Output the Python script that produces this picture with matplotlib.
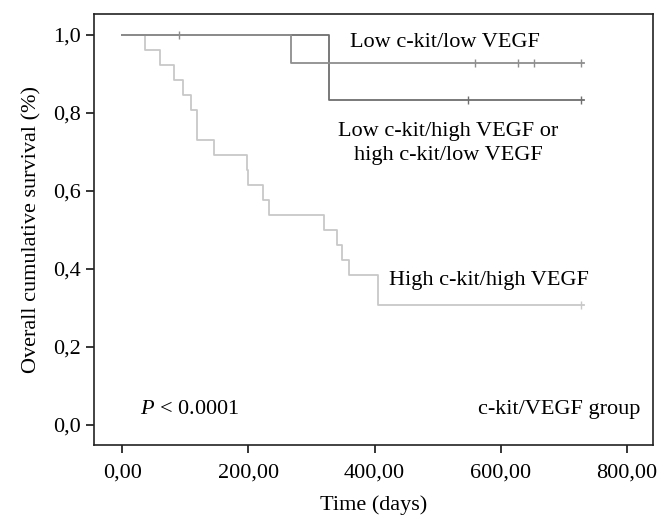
import matplotlib.pyplot as plt

plt.rcParams['font.family'] = ['Liberation Serif', 'DejaVu Serif']
plt.rcParams['mathtext.fontset'] = 'custom'
plt.rcParams['mathtext.it'] = 'Liberation Serif:italic'
plt.rcParams['mathtext.rm'] = 'Liberation Serif'

# step curves: (time in days, survival after the step)
low_low_t = [0, 268, 732]
low_low_s = [1.0, 0.927, 0.927]
low_low_cens_t = [90, 559, 627, 653, 728]
low_low_cens_s = [1.0, 0.927, 0.927, 0.927, 0.927]

mid_t = [0, 328, 732]
mid_s = [1.0, 0.833, 0.833]
mid_cens_t = [548, 728]
mid_cens_s = [0.833, 0.833]

high_t = [0, 36, 60, 82, 96, 109, 119, 145, 198, 200, 223, 233, 319, 340, 349, 359, 406, 732]
high_s = [1.0, 0.962, 0.923, 0.885, 0.846, 0.808, 0.731, 0.692, 0.654, 0.615,
          0.577, 0.538, 0.500, 0.462, 0.423, 0.385, 0.308, 0.308]
high_cens_t = [728]
high_cens_s = [0.308]

x_ticks = [0, 200, 400, 600, 800]
x_tick_labels = ['0,00', '200,00', '400,00', '600,00', '800,00']
y_ticks = [0.0, 0.2, 0.4, 0.6, 0.8, 1.0]
y_tick_labels = ['0,0', '0,2', '0,4', '0,6', '0,8', '1,0']

fig = plt.figure(figsize=(6.68, 5.29), dpi=100)
ax = fig.add_axes([0.1403, 0.1594, 0.8368, 0.8141])

c_high = '#c8c8c8'
c_low = '#8e8e8e'
c_mid = '#6e6e6e'

ax.step(high_t, high_s, where='post', color=c_high, lw=1.3)
ax.plot(high_cens_t, high_cens_s, ls='none', marker='|', ms=6, mew=1, color=c_high)
ax.step(mid_t, mid_s, where='post', color=c_mid, lw=1.3)
ax.plot(mid_cens_t, mid_cens_s, ls='none', marker='|', ms=6, mew=1, color=c_mid)
ax.step(low_low_t, low_low_s, where='post', color=c_low, lw=1.3)
ax.plot(low_low_cens_t, low_low_cens_s, ls='none', marker='|', ms=6, mew=1, color=c_low)

ax.set_xlim(-45.4, 841)
ax.set_ylim(-0.051, 1.053)
ax.set_xticks(x_ticks)
ax.set_xticklabels(x_tick_labels)
ax.set_yticks(y_ticks)
ax.set_yticklabels(y_tick_labels)
ax.tick_params(direction='out', length=5.5, width=1.1, labelsize=16)
ax.tick_params(axis='x', pad=8)
ax.tick_params(axis='y', pad=4)

for sp in ax.spines.values():
    sp.set_linewidth(1.2)
    sp.set_color('#222222')

ax.set_xlabel('Time (days)', fontsize=16, labelpad=9)
ax.set_ylabel('Overall cumulative survival (%)', fontsize=16, labelpad=8)

ax.text(512, 0.979, 'Low c-kit/low VEGF', fontsize=16, ha='center', va='center')
ax.text(517, 0.72, 'Low c-kit/high VEGF or\nhigh c-kit/low VEGF', fontsize=16,
        ha='center', va='center', linespacing=1.35)
ax.text(582, 0.371, 'High c-kit/high VEGF', fontsize=16, ha='center', va='center')
ax.text(28, 0.04, r'$\mathit{P}$ < 0.0001', fontsize=16, ha='left', va='center')
ax.text(821, 0.04, 'c-kit/VEGF group', fontsize=16, ha='right', va='center')

fig.savefig('out.png', dpi=100)
